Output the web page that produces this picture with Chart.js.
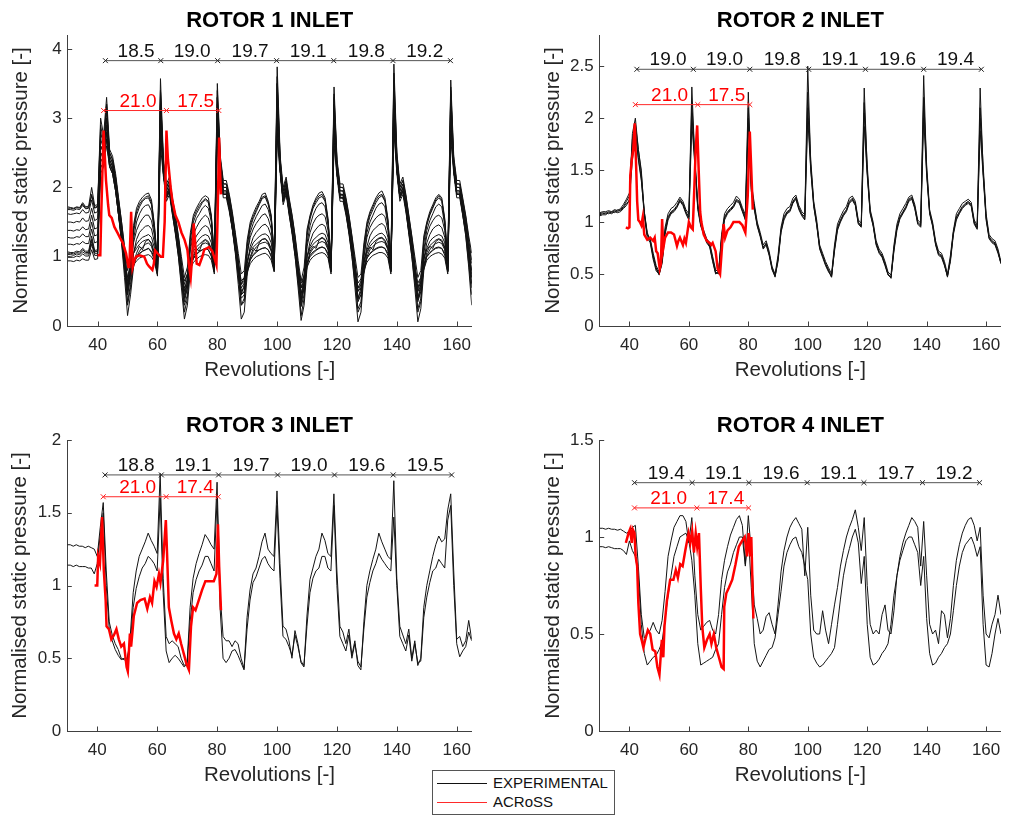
<!DOCTYPE html>
<html>
<head>
<meta charset="utf-8">
<script src="https://cdn.jsdelivr.net/npm/chart.js@4.4.1/dist/chart.umd.min.js"></script>
<style>
  html, body { margin: 0; padding: 0; background: #fff; }
  body { width: 1010px; height: 815px; position: relative; overflow: hidden; font-family: "Liberation Sans", Arial, sans-serif; }
  canvas { position: absolute; }
  #legend { position: absolute; left: 432px; top: 770px; width: 183px; height: 45px; box-sizing: border-box;
            border: 1px solid #555; background: #fff; }
  #legend .ln { position: absolute; left: 4px; width: 50px; height: 1px; }
  #legend .tx { position: absolute; left: 60px; font-size: 15px; line-height: 18px; color: #111; white-space: nowrap; }
</style>
</head>
<body>
<canvas id="rotor1" width="490" height="395" style="left:0;top:0"></canvas>
<canvas id="rotor2" width="480" height="395" style="left:530px;top:0"></canvas>
<canvas id="rotor3" width="490" height="400" style="left:0;top:400px"></canvas>
<canvas id="rotor4" width="480" height="400" style="left:530px;top:400px"></canvas>
<div id="legend">
  <div class="ln" style="top:11.5px;background:#111"></div><div class="tx" style="top:2.5px">EXPERIMENTAL</div>
  <div class="ln" style="top:30.5px;background:#ff2a2a"></div><div class="tx" style="top:21.5px">ACRoSS</div>
</div>
<script>
// Revolution grid shared by the experimental traces (one sample per revolution)
const revs = Array.from({ length: 136 }, (_, i) => 30 + i);
const revTicks = [40, 60, 80, 100, 120, 140, 160];

// ---------- ROTOR 1 INLET ----------
const r1Exp1 = [1.72,1.71,1.70,1.72,1.71,1.78,1.72,1.73,2.0,1.74,
  1.75,3.0,2.75,3.3,2.55,2.45,2.2,1.85,1.5,1.15,
  0.8,1.0,1.45,1.7,1.8,1.86,1.9,1.92,1.82,1.45,
  0.95,3.57,2.4,2.05,2.15,1.85,1.6,1.3,1.0,0.7,
  0.85,1.35,1.6,1.7,1.78,1.85,1.88,1.85,1.6,1.0,
  3.5,2.45,2.1,2.1,1.9,1.65,1.35,1.05,0.75,0.8,
  1.25,1.5,1.62,1.72,1.8,1.9,1.92,1.8,1.6,1.05,
  3.74,2.45,2.0,2.15,1.85,1.6,1.3,0.95,0.65,0.85,
  1.4,1.6,1.75,1.85,1.92,1.94,1.85,1.55,0.95,3.45,
  2.4,2.05,2.05,1.85,1.6,1.3,1.0,0.7,0.75,1.2,
  1.5,1.65,1.75,1.85,1.92,1.95,1.85,1.55,0.95,3.78,
  2.5,2.05,2.15,1.9,1.6,1.3,1.0,0.7,0.8,1.3,
  1.5,1.65,1.75,1.85,1.9,1.85,1.55,0.95,3.55,2.45,
  2.1,2.1,1.85,1.6,1.3,1.05];
const r1Exp2 = [1.68,1.68,1.67,1.69,1.68,1.74,1.69,1.70,1.9,1.70,
  1.72,2.8,2.6,3.1,2.5,2.4,2.15,1.8,1.45,1.05,
  0.6,0.9,1.35,1.6,1.72,1.8,1.84,1.85,1.75,1.4,
  0.9,3.3,2.35,2.0,2.1,1.8,1.55,1.25,0.9,0.5,
  0.7,1.25,1.5,1.62,1.7,1.78,1.82,1.78,1.55,0.95,
  3.3,2.4,2.05,2.05,1.85,1.6,1.3,0.95,0.6,0.65,
  1.15,1.42,1.55,1.65,1.75,1.84,1.86,1.75,1.55,1.0,
  3.5,2.4,1.95,2.1,1.8,1.55,1.25,0.85,0.45,0.7,
  1.3,1.55,1.7,1.78,1.85,1.87,1.8,1.5,0.9,3.3,
  2.35,2.0,2.0,1.8,1.55,1.25,0.9,0.5,0.6,1.1,
  1.42,1.58,1.68,1.78,1.85,1.88,1.8,1.5,0.9,3.55,
  2.45,2.0,2.1,1.85,1.55,1.25,0.9,0.5,0.65,1.2,
  1.45,1.6,1.7,1.8,1.85,1.8,1.5,0.9,3.35,2.4,
  2.05,2.05,1.8,1.55,1.2,0.9];
const r1Exp3 = [1.62,1.61,1.62,1.63,1.62,1.68,1.63,1.64,1.82,1.63,
  1.65,2.6,2.5,3.0,2.45,2.35,2.1,1.75,1.4,1.0,
  0.45,0.75,1.25,1.5,1.62,1.7,1.74,1.75,1.66,1.35,
  0.85,3.2,2.3,1.95,2.05,1.75,1.5,1.2,0.8,0.35,
  0.55,1.15,1.42,1.55,1.62,1.7,1.74,1.7,1.5,0.9,
  3.2,2.35,2.0,2.0,1.8,1.55,1.25,0.9,0.45,0.5,
  1.05,1.35,1.48,1.58,1.66,1.74,1.76,1.68,1.5,0.95,
  3.3,2.35,1.9,2.05,1.75,1.5,1.2,0.8,0.3,0.55,
  1.2,1.45,1.6,1.7,1.76,1.78,1.72,1.45,0.85,3.2,
  2.3,1.95,1.95,1.75,1.5,1.2,0.85,0.35,0.45,1.0,
  1.35,1.5,1.6,1.7,1.76,1.78,1.72,1.45,0.85,3.35,
  2.4,1.95,2.05,1.8,1.5,1.2,0.85,0.35,0.5,1.1,
  1.38,1.52,1.62,1.72,1.76,1.72,1.45,0.85,3.25,2.35,
  2.0,2.0,1.75,1.5,1.15,0.8];
const r1Exp4 = [1.50,1.50,1.49,1.51,1.50,1.56,1.51,1.52,1.7,1.52,
  1.55,2.7,2.55,2.9,2.4,2.3,2.05,1.7,1.35,1.0,
  0.65,0.9,1.2,1.38,1.48,1.55,1.6,1.6,1.52,1.3,
  0.85,3.0,2.25,1.9,2.0,1.7,1.45,1.15,0.85,0.6,
  0.75,1.1,1.32,1.42,1.5,1.56,1.6,1.56,1.4,0.9,
  3.0,2.3,1.95,1.95,1.75,1.5,1.2,0.9,0.6,0.7,
  1.05,1.28,1.4,1.48,1.54,1.6,1.62,1.55,1.4,0.95,
  3.1,2.3,1.85,2.0,1.7,1.45,1.15,0.85,0.55,0.75,
  1.15,1.35,1.48,1.56,1.6,1.62,1.58,1.38,0.85,3.0,
  2.25,1.9,1.9,1.7,1.45,1.15,0.85,0.55,0.65,1.0,
  1.28,1.42,1.5,1.56,1.6,1.62,1.58,1.38,0.85,3.2,
  2.3,1.9,2.0,1.75,1.45,1.15,0.85,0.55,0.7,1.05,
  1.3,1.44,1.52,1.58,1.6,1.56,1.38,0.85,3.1,2.3,
  1.95,1.95,1.7,1.45,1.1,0.75];
const r1Exp5 = [1.38,1.38,1.37,1.39,1.38,1.43,1.39,1.40,1.6,1.40,
  1.42,2.5,2.45,2.8,2.35,2.25,2.0,1.65,1.3,0.9,
  0.35,0.6,1.05,1.25,1.35,1.4,1.44,1.45,1.4,1.2,
  0.8,2.9,2.2,1.85,1.95,1.65,1.4,1.1,0.7,0.2,
  0.4,0.95,1.2,1.3,1.36,1.42,1.45,1.42,1.3,0.85,
  2.9,2.25,1.9,1.9,1.7,1.45,1.15,0.8,0.3,0.35,
  0.9,1.15,1.28,1.35,1.4,1.45,1.47,1.42,1.3,0.9,
  3.0,2.25,1.8,1.95,1.65,1.4,1.1,0.7,0.15,0.4,
  1.0,1.22,1.34,1.4,1.45,1.47,1.44,1.28,0.8,2.9,
  2.2,1.85,1.85,1.65,1.4,1.1,0.75,0.2,0.3,0.9,
  1.15,1.3,1.38,1.42,1.46,1.48,1.44,1.28,0.8,3.1,
  2.25,1.85,1.95,1.7,1.4,1.1,0.75,0.2,0.35,0.95,
  1.2,1.32,1.4,1.44,1.46,1.42,1.28,0.8,3.0,2.25,
  1.9,1.9,1.65,1.4,1.0,0.55];
const r1Exp6 = [1.28,1.27,1.27,1.29,1.28,1.33,1.29,1.29,1.5,1.30,
  1.32,2.4,2.4,2.7,2.3,2.2,1.95,1.6,1.25,0.9,
  0.55,0.8,1.05,1.18,1.24,1.28,1.3,1.32,1.28,1.12,
  0.8,3.1,2.2,1.85,1.95,1.65,1.4,1.1,0.75,0.45,
  0.6,0.95,1.12,1.2,1.26,1.3,1.32,1.3,1.2,0.85,
  3.1,2.25,1.9,1.9,1.7,1.45,1.15,0.8,0.45,0.5,
  0.9,1.1,1.2,1.25,1.29,1.32,1.33,1.3,1.2,0.9,
  3.3,2.25,1.8,1.95,1.65,1.4,1.1,0.75,0.4,0.6,
  1.0,1.15,1.24,1.28,1.32,1.34,1.32,1.2,0.8,3.1,
  2.2,1.85,1.85,1.65,1.4,1.1,0.75,0.4,0.5,0.9,
  1.1,1.2,1.26,1.3,1.33,1.34,1.3,1.2,0.8,3.3,
  2.25,1.85,1.95,1.7,1.4,1.1,0.75,0.4,0.55,0.95,
  1.12,1.22,1.27,1.3,1.32,1.3,1.2,0.8,3.15,2.25,
  1.9,1.9,1.65,1.4,1.05,0.7];
const r1Exp7 = [1.18,1.18,1.17,1.19,1.18,1.22,1.19,1.19,1.4,1.20,
  1.22,2.3,2.35,2.6,2.3,2.2,1.95,1.6,1.3,1.0,
  0.7,0.9,1.05,1.12,1.18,1.22,1.24,1.25,1.2,1.05,
  0.8,2.6,2.15,1.8,1.9,1.6,1.35,1.1,0.85,0.65,
  0.75,0.95,1.08,1.14,1.18,1.22,1.25,1.22,1.12,0.8,
  2.6,2.2,1.85,1.85,1.65,1.4,1.15,0.9,0.65,0.7,
  0.95,1.08,1.14,1.18,1.22,1.25,1.26,1.22,1.12,0.85,
  2.7,2.2,1.75,1.9,1.6,1.35,1.1,0.85,0.62,0.72,
  1.0,1.12,1.18,1.22,1.25,1.28,1.25,1.15,0.8,2.6,
  2.15,1.8,1.8,1.6,1.35,1.1,0.85,0.62,0.68,0.95,
  1.08,1.15,1.2,1.24,1.27,1.28,1.24,1.14,0.8,2.8,
  2.2,1.8,1.9,1.65,1.35,1.1,0.85,0.62,0.7,1.0,
  1.1,1.16,1.2,1.24,1.26,1.24,1.14,0.8,2.7,2.2,
  1.85,1.85,1.6,1.35,1.05,0.8];
const r1Exp8 = [1.07,1.06,1.06,1.08,1.07,1.12,1.08,1.08,1.3,1.09,
  1.1,2.2,2.3,2.9,2.35,2.25,2.0,1.6,1.2,0.7,
  0.15,0.45,0.85,1.0,1.08,1.14,1.18,1.2,1.15,1.0,
  0.75,3.4,2.2,1.85,1.95,1.65,1.35,1.0,0.55,0.1,
  0.3,0.8,1.0,1.08,1.14,1.18,1.2,1.18,1.08,0.8,
  3.3,2.25,1.9,1.9,1.7,1.4,1.05,0.6,0.1,0.2,
  0.75,0.98,1.08,1.14,1.18,1.2,1.21,1.18,1.08,0.85,
  3.5,2.25,1.8,1.95,1.65,1.35,1.0,0.55,0.08,0.3,
  0.85,1.05,1.12,1.16,1.2,1.22,1.2,1.1,0.8,3.2,
  2.2,1.85,1.85,1.65,1.35,1.0,0.55,0.06,0.2,0.75,
  1.0,1.1,1.15,1.19,1.21,1.22,1.2,1.1,0.8,3.5,
  2.25,1.85,1.95,1.7,1.35,1.0,0.55,0.06,0.25,0.8,
  1.02,1.1,1.16,1.19,1.21,1.19,1.1,0.8,3.4,2.25,
  1.9,1.9,1.6,1.3,0.85,0.3];
const r1Exp9 = [1.03,1.03,1.02,1.04,1.03,1.07,1.04,1.04,1.22,1.05,
  1.05,2.5,2.4,3.2,2.4,2.3,2.05,1.65,1.25,0.85,
  0.45,0.7,0.9,1.0,1.05,1.08,1.1,1.12,1.08,0.98,
  0.75,2.9,2.25,1.9,2.0,1.7,1.4,1.05,0.7,0.4,
  0.55,0.85,0.98,1.04,1.08,1.1,1.12,1.1,1.02,0.78,
  2.8,2.3,1.95,1.95,1.75,1.45,1.1,0.75,0.4,0.45,
  0.8,0.95,1.03,1.08,1.1,1.12,1.13,1.1,1.02,0.8,
  2.9,2.3,1.85,2.0,1.7,1.4,1.05,0.7,0.38,0.55,
  0.9,1.02,1.07,1.1,1.13,1.14,1.12,1.05,0.78,2.9,
  2.25,1.9,1.9,1.7,1.4,1.05,0.7,0.38,0.45,0.8,
  0.98,1.05,1.09,1.12,1.14,1.14,1.12,1.05,0.78,3.0,
  2.3,1.9,2.0,1.75,1.4,1.05,0.7,0.38,0.5,0.85,
  1.0,1.06,1.1,1.13,1.14,1.12,1.05,0.78,2.9,2.3,
  1.95,1.95,1.7,1.4,1.0,0.6];
const r1Exp10 = [0.94,0.94,0.93,0.95,0.94,0.97,0.95,0.95,1.1,0.96,
  0.97,2.6,2.5,3.0,2.45,2.35,2.1,1.7,1.3,0.9,
  0.55,0.75,0.88,0.94,0.98,1.0,1.02,1.03,1.0,0.92,
  0.72,3.2,2.3,1.95,2.05,1.75,1.45,1.1,0.78,0.5,
  0.6,0.82,0.92,0.96,1.0,1.02,1.03,1.02,0.95,0.75,
  3.1,2.35,2.0,2.0,1.8,1.5,1.15,0.8,0.5,0.55,
  0.78,0.9,0.96,1.0,1.02,1.04,1.05,1.02,0.95,0.78,
  3.2,2.35,1.9,2.05,1.75,1.45,1.1,0.75,0.48,0.6,
  0.85,0.95,1.0,1.03,1.05,1.06,1.04,0.98,0.75,2.8,
  2.3,1.95,1.95,1.75,1.45,1.1,0.75,0.5,0.55,0.8,
  0.92,0.98,1.02,1.04,1.06,1.06,1.04,0.98,0.75,3.0,
  2.35,1.95,2.05,1.8,1.45,1.1,0.75,0.5,0.58,0.82,
  0.95,1.0,1.03,1.05,1.06,1.04,0.98,0.75,3.0,2.35,
  2.0,2.0,1.75,1.45,1.1,0.7];
const r1Exp11 = [1.70,1.70,1.69,1.71,1.70,1.76,1.70,1.71,1.88,1.71,
  1.73,2.9,2.65,3.2,2.5,2.4,2.15,1.82,1.5,1.1,
  0.5,0.85,1.4,1.65,1.76,1.82,1.86,1.88,1.78,1.42,
  0.92,3.4,2.35,2.0,2.1,1.82,1.58,1.28,0.92,0.4,
  0.65,1.3,1.56,1.66,1.74,1.8,1.84,1.8,1.58,0.98,
  3.4,2.4,2.05,2.05,1.88,1.62,1.32,0.95,0.45,0.6,
  1.2,1.46,1.58,1.68,1.77,1.86,1.88,1.78,1.58,1.02,
  3.6,2.4,1.95,2.1,1.82,1.58,1.28,0.85,0.35,0.65,
  1.35,1.58,1.72,1.82,1.88,1.9,1.82,1.52,0.92,3.35,
  2.35,2.0,2.0,1.82,1.58,1.28,0.9,0.4,0.55,1.15,
  1.46,1.62,1.72,1.82,1.88,1.9,1.82,1.52,0.92,3.65,
  2.45,2.0,2.1,1.88,1.58,1.28,0.9,0.4,0.6,1.25,
  1.48,1.62,1.72,1.82,1.88,1.82,1.52,0.92,3.45,2.4,
  2.05,2.05,1.82,1.58,1.25,0.95];
const r1Exp12 = [1.05,1.05,1.04,1.06,1.05,1.1,1.06,1.06,1.25,1.07,
  1.08,2.4,2.35,2.7,2.3,2.2,1.95,1.6,1.22,0.8,
  0.3,0.55,0.9,1.05,1.15,1.1,1.22,1.25,1.18,1.02,
  0.78,3.0,2.2,1.85,1.95,1.62,1.32,1.0,0.62,0.3,
  0.45,0.85,1.02,1.12,1.08,1.2,1.24,1.2,1.1,0.82,
  3.0,2.25,1.9,1.9,1.68,1.4,1.08,0.7,0.3,0.4,
  0.82,1.0,1.12,1.08,1.2,1.25,1.26,1.2,1.1,0.85,
  3.1,2.25,1.8,1.95,1.62,1.32,1.0,0.62,0.28,0.45,
  0.9,1.08,1.15,1.12,1.24,1.27,1.24,1.12,0.82,3.0,
  2.2,1.85,1.85,1.62,1.32,1.0,0.62,0.25,0.35,0.82,
  1.05,1.14,1.1,1.22,1.26,1.27,1.22,1.12,0.82,3.2,
  2.25,1.85,1.95,1.68,1.32,1.0,0.62,0.25,0.4,0.88,
  1.06,1.15,1.12,1.22,1.25,1.22,1.12,0.82,3.1,2.25,
  1.9,1.9,1.62,1.32,0.9,0.45];
const r1Exp13 = [1.0,1.0,0.99,1.01,1.0,1.04,1.01,1.01,1.18,1.02,
  1.02,2.3,2.3,2.8,2.35,2.25,2.0,1.62,1.28,0.92,
  0.58,0.78,0.92,0.98,1.04,1.08,1.1,1.12,1.06,0.95,
  0.75,2.75,2.2,1.88,1.98,1.68,1.38,1.05,0.75,0.55,
  0.65,0.88,0.97,1.03,1.07,1.1,1.12,1.1,1.0,0.78,
  2.75,2.25,1.92,1.92,1.72,1.42,1.1,0.78,0.55,0.62,
  0.85,0.96,1.02,1.06,1.1,1.12,1.13,1.1,1.0,0.8,
  2.8,2.25,1.82,1.98,1.68,1.38,1.05,0.75,0.55,0.65,
  0.92,1.0,1.05,1.09,1.12,1.14,1.12,1.02,0.78,2.7,
  2.2,1.88,1.88,1.68,1.38,1.05,0.75,0.55,0.6,0.85,
  0.98,1.04,1.08,1.11,1.13,1.14,1.12,1.02,0.78,2.9,
  2.25,1.88,1.98,1.72,1.38,1.05,0.75,0.55,0.62,0.88,
  1.0,1.05,1.09,1.12,1.13,1.12,1.02,0.78,2.8,2.25,
  1.92,1.92,1.68,1.38,1.02,0.62];
const r1Across = [[40.0,1.02],[40.9,1.02],[41.2,1.6],[42.0,2.82],[42.8,2.1],[43.5,1.75],[43.9,1.6],[44.7,1.56],
  [45.6,1.43],[46.7,1.34],[47.5,1.27],[48.4,1.2],[49.5,1.05],[50.3,0.85],[50.6,0.85],[51.2,1.65],[51.7,0.85],
  [52.3,0.95],[52.8,1.0],[54.0,1.02],[55.6,1.0],[56.5,0.9],[57.2,0.86],[58.3,0.81],[58.8,0.9],[59.2,1.09],
  [60.0,1.05],[61.1,1.0],[61.8,1.0],[62.4,1.5],[63.0,2.82],[63.5,2.4],[64.4,2.0],[65.0,1.8],[66.0,1.6],
  [67.0,1.5],[68.0,1.35],[69.0,1.25],[70.0,1.1],[70.6,0.85],[71.1,0.7],[71.6,1.0],[72.1,1.48],[72.6,1.2],
  [73.1,0.9],[74.0,0.88],[75.0,1.0],[75.6,1.1],[77.2,1.14],[78.3,1.08],[78.9,1.0],[79.7,0.88],[80.1,1.6],
  [80.6,2.72],[81.1,2.0],[81.2,1.9]];
const r1Exp = [r1Exp1, r1Exp2, r1Exp3, r1Exp4, r1Exp5, r1Exp6, r1Exp7, r1Exp8, r1Exp9, r1Exp10,
               r1Exp11, r1Exp12, r1Exp13];
const r1YTicks = [0, 1, 2, 3, 4];
const r1ExpStart = 42.6, r1ExpGaps = [18.5, 19.0, 19.7, 19.1, 19.8, 19.2];
const r1SimStart = 42.0, r1SimGaps = [21.0, 17.5];

// ---------- ROTOR 2 INLET ----------
const r2Exp1 = [1.08,1.09,1.08,1.10,1.09,1.11,1.10,1.12,1.15,1.20,
  1.25,1.85,2.0,1.7,1.47,1.1,0.88,0.82,0.68,0.55,
  0.49,0.62,0.92,1.05,1.1,1.12,1.16,1.22,1.18,1.1,
  1.05,2.3,1.6,1.15,0.98,0.9,0.82,0.78,0.65,0.52,
  0.5,0.85,1.05,1.1,1.13,1.16,1.22,1.2,1.12,1.05,
  2.25,1.35,1.15,0.98,0.88,0.75,0.8,0.7,0.55,0.47,
  0.65,0.92,1.05,1.1,1.12,1.2,1.24,1.14,1.08,1.05,
  2.5,1.56,1.18,0.99,0.75,0.67,0.6,0.54,0.47,0.75,
  0.95,1.02,1.08,1.12,1.2,1.23,1.18,1.0,0.97,2.29,
  1.5,1.1,0.98,0.8,0.72,0.68,0.6,0.5,0.46,0.75,
  0.95,1.05,1.1,1.15,1.22,1.24,1.15,1.0,0.97,2.41,
  1.5,1.1,0.98,0.8,0.7,0.68,0.6,0.47,0.65,0.9,
  1.05,1.1,1.15,1.18,1.2,1.17,1.0,0.95,2.29,1.5,
  1.05,0.86,0.82,0.8,0.72,0.6];
const r2Exp2 = [1.07,1.08,1.09,1.08,1.10,1.09,1.12,1.11,1.14,1.18,
  1.2,1.75,1.9,1.6,1.4,1.1,0.9,0.82,0.66,0.56,
  0.5,0.6,0.88,1.02,1.08,1.1,1.14,1.2,1.16,1.08,
  1.02,1.95,1.55,1.12,0.96,0.88,0.8,0.76,0.62,0.5,
  0.52,0.82,1.02,1.08,1.11,1.14,1.2,1.18,1.1,1.02,
  1.95,1.3,1.12,0.96,0.86,0.74,0.78,0.68,0.54,0.48,
  0.62,0.9,1.02,1.08,1.1,1.18,1.22,1.12,1.06,1.02,
  2.0,1.5,1.15,0.97,0.74,0.66,0.58,0.52,0.48,0.72,
  0.92,1.0,1.06,1.1,1.18,1.21,1.16,0.98,0.95,1.92,
  1.45,1.08,0.96,0.78,0.7,0.66,0.58,0.49,0.47,0.72,
  0.92,1.03,1.08,1.13,1.2,1.22,1.13,0.98,0.95,2.0,
  1.45,1.08,0.96,0.78,0.68,0.66,0.58,0.48,0.62,0.88,
  1.02,1.08,1.13,1.16,1.18,1.15,0.98,0.93,1.88,1.45,
  1.02,0.84,0.8,0.78,0.7,0.6];
const r2Exp3 = [1.09,1.1,1.1,1.11,1.1,1.12,1.11,1.13,1.17,1.22,
  1.28,1.8,1.95,1.7,1.5,1.08,0.88,0.84,0.7,0.58,
  0.52,0.65,0.95,1.08,1.13,1.15,1.19,1.24,1.2,1.12,
  1.08,2.15,1.62,1.18,1.0,0.92,0.84,0.8,0.67,0.54,
  0.52,0.88,1.08,1.13,1.16,1.19,1.25,1.22,1.14,1.07,
  2.1,1.38,1.18,1.0,0.9,0.78,0.82,0.72,0.57,0.5,
  0.68,0.95,1.08,1.13,1.15,1.23,1.26,1.16,1.1,1.07,
  2.25,1.6,1.2,1.02,0.78,0.7,0.62,0.56,0.5,0.78,
  0.98,1.05,1.11,1.15,1.23,1.25,1.2,1.02,0.99,2.15,
  1.55,1.12,1.0,0.82,0.74,0.7,0.62,0.52,0.49,0.78,
  0.98,1.08,1.13,1.18,1.24,1.26,1.17,1.02,0.99,2.2,
  1.55,1.12,1.0,0.82,0.72,0.7,0.62,0.5,0.68,0.92,
  1.08,1.13,1.18,1.2,1.22,1.19,1.02,0.97,2.1,1.55,
  1.08,0.88,0.84,0.82,0.74,0.62];
const r2Exp4 = [1.06,1.07,1.07,1.09,1.08,1.1,1.09,1.1,1.13,1.16,
  1.22,1.6,1.85,1.62,1.42,1.06,0.85,0.8,0.64,0.53,
  0.5,0.63,0.9,1.04,1.09,1.11,1.15,1.21,1.17,1.09,
  1.03,2.05,1.58,1.14,0.97,0.89,0.81,0.77,0.63,0.51,
  0.51,0.84,1.04,1.09,1.12,1.15,1.21,1.19,1.11,1.03,
  2.0,1.32,1.14,0.97,0.87,0.76,0.79,0.69,0.56,0.48,
  0.64,0.91,1.04,1.09,1.11,1.19,1.23,1.13,1.07,1.03,
  2.1,1.52,1.16,0.98,0.76,0.68,0.59,0.53,0.47,0.74,
  0.94,1.01,1.07,1.11,1.19,1.22,1.17,0.99,0.96,2.05,
  1.48,1.09,0.97,0.79,0.71,0.67,0.59,0.5,0.46,0.74,
  0.94,1.04,1.09,1.14,1.21,1.23,1.14,0.99,0.96,2.15,
  1.48,1.09,0.97,0.79,0.69,0.67,0.59,0.48,0.64,0.9,
  1.04,1.09,1.14,1.17,1.19,1.16,0.99,0.94,2.0,1.48,
  1.04,0.85,0.81,0.79,0.71,0.61];
const r2Across = [[38.8,0.95],[39.5,0.94],[40.0,0.95],[40.3,1.45],[40.8,1.6],[41.3,1.7],[41.8,1.95],[42.3,1.5],
  [42.6,1.2],[43.0,1.02],[43.5,1.0],[44.0,0.97],[44.5,1.05],[45.0,0.88],[46.0,0.83],[47.0,0.85],[48.0,0.82],
  [48.5,0.85],[49.0,0.72],[49.5,0.7],[50.2,0.55],[50.6,0.6],[51.0,1.03],[51.4,0.75],[52.0,0.85],[53.0,0.9],
  [54.0,0.9],[55.0,0.88],[56.0,0.77],[56.5,0.82],[57.0,0.85],[58.0,0.78],[58.5,0.84],[59.0,0.8],[60.0,1.0],
  [60.7,0.95],[61.3,0.93],[61.8,1.3],[62.3,1.7],[62.8,1.93],[63.3,1.5],[63.8,1.1],[64.2,1.0],[65.0,0.88],
  [66.0,0.82],[67.0,0.8],[67.5,0.78],[68.0,0.8],[69.0,0.72],[69.7,0.55],[70.5,0.5],[71.0,0.7],[71.7,0.98],
  [72.2,0.85],[73.0,0.92],[74.0,0.95],[75.0,1.0],[76.0,1.0],[77.0,1.0],[78.0,0.97],[79.0,0.9],[79.8,1.25],
  [80.5,1.87],[81.0,1.5],[81.5,1.12]];
const r2Exp = [r2Exp1, r2Exp2, r2Exp3, r2Exp4];
const r2YTicks = [0, 0.5, 1, 1.5, 2, 2.5];
const r2ExpStart = 42.5, r2ExpGaps = [19.0, 19.0, 19.8, 19.1, 19.6, 19.4];
const r2SimStart = 42.0, r2SimGaps = [21.0, 17.5];

// ---------- ROTOR 3 INLET ----------
const r3Exp1 = [1.28,1.28,1.27,1.28,1.27,1.27,1.26,1.27,1.26,1.25,
  1.2,1.4,1.57,1.1,0.75,0.66,0.6,0.56,0.5,0.49,
  0.48,0.65,0.95,1.1,1.2,1.25,1.3,1.36,1.31,1.27,
  1.22,1.77,1.05,0.65,0.6,0.62,0.6,0.58,0.5,0.45,
  0.47,0.85,1.05,1.15,1.22,1.28,1.35,1.32,1.28,1.25,
  1.71,0.95,0.65,0.62,0.62,0.58,0.62,0.6,0.5,0.43,
  0.78,0.97,1.08,1.12,1.2,1.3,1.36,1.25,1.22,1.2,
  1.65,1.15,0.72,0.7,0.62,0.5,0.69,0.6,0.47,0.44,
  0.79,1.04,1.12,1.2,1.25,1.36,1.31,1.22,1.2,1.63,
  1.1,0.72,0.68,0.6,0.7,0.52,0.62,0.45,0.42,0.75,
  1.0,1.1,1.18,1.25,1.36,1.3,1.25,1.2,1.18,1.72,
  1.05,0.72,0.66,0.6,0.7,0.5,0.62,0.45,0.5,0.85,
  1.0,1.1,1.2,1.28,1.34,1.3,1.32,1.52,1.63,1.1,
  0.63,0.65,0.58,0.62,0.76,0.63];
const r3Exp2 = [1.14,1.14,1.13,1.14,1.13,1.13,1.13,1.12,1.12,1.08,
  1.15,1.35,1.5,1.0,0.7,0.62,0.56,0.52,0.49,0.5,
  0.5,0.6,0.85,0.98,1.06,1.12,1.15,1.2,1.18,1.15,
  1.1,1.6,0.95,0.55,0.47,0.5,0.52,0.5,0.47,0.44,
  0.46,0.75,0.95,1.04,1.1,1.14,1.2,1.2,1.15,1.1,
  1.6,0.85,0.5,0.47,0.5,0.55,0.56,0.52,0.47,0.42,
  0.7,0.9,1.02,1.06,1.12,1.18,1.2,1.15,1.12,1.1,
  1.55,1.05,0.65,0.63,0.58,0.52,0.66,0.58,0.48,0.45,
  0.72,0.95,1.05,1.1,1.12,1.2,1.2,1.12,1.1,1.55,
  1.0,0.65,0.6,0.55,0.66,0.5,0.6,0.48,0.44,0.7,
  0.92,1.02,1.1,1.15,1.22,1.18,1.15,1.12,1.1,1.47,
  1.0,0.65,0.6,0.55,0.66,0.48,0.6,0.47,0.48,0.78,
  0.92,1.02,1.1,1.12,1.18,1.15,1.12,1.45,1.55,1.0,
  0.6,0.51,0.55,0.58,0.68,0.62];
const r3Across = [[39.1,1.0],[40.0,1.0],[40.3,1.2],[40.9,1.15],[41.6,1.47],[42.2,1.1],[42.8,0.9],[43.1,0.72],
  [43.9,0.7],[44.7,0.63],[45.6,0.66],[46.4,0.7],[47.2,0.63],[48.0,0.58],[48.9,0.6],[49.8,0.44],[50.2,0.41],
  [50.9,0.67],[51.3,0.58],[51.7,0.67],[52.2,0.79],[53.3,0.88],[54.4,0.9],[55.8,0.91],[56.7,0.84],[57.6,0.92],
  [58.3,0.88],[59.1,1.03],[59.8,0.99],[60.6,1.08],[61.1,1.02],[62.0,1.17],[62.9,1.45],[63.3,1.22],[63.9,0.85],
  [64.7,0.76],[65.6,0.67],[66.4,0.63],[67.2,0.67],[68.0,0.6],[68.9,0.53],[69.8,0.46],[70.6,0.42],[71.3,0.72],
  [72.0,0.85],[72.8,0.83],[73.9,0.9],[75.0,0.97],[76.1,1.03],[77.5,1.03],[78.9,1.03],[79.8,1.08],[80.3,1.42],
  [80.7,1.13],[81.3,0.83]];
const r3Exp = [r3Exp1, r3Exp2];
const r3YTicks = [0, 0.5, 1, 1.5, 2];
const r3ExpStart = 42.6, r3ExpGaps = [18.8, 19.1, 19.7, 19.0, 19.6, 19.5];
const r3SimStart = 42.0, r3SimGaps = [21.0, 17.4];

// ---------- ROTOR 4 INLET ----------
const r4Exp1 = [1.045,1.045,1.04,1.045,1.04,1.04,1.035,1.04,1.03,1.02,
  1.03,1.05,1.06,0.85,0.6,0.48,0.5,0.52,0.56,0.52,
  0.5,0.57,0.72,0.9,0.98,1.05,1.08,1.11,1.11,1.08,
  0.97,1.1,0.8,0.6,0.52,0.54,0.56,0.57,0.52,0.5,
  0.6,0.78,0.88,0.95,1.01,1.05,1.09,1.11,1.06,0.86,
  1.11,0.92,0.65,0.58,0.5,0.52,0.59,0.61,0.55,0.5,
  0.65,0.82,0.93,1.0,1.05,1.08,1.1,1.07,1.04,0.8,
  1.05,0.7,0.52,0.5,0.5,0.62,0.52,0.45,0.55,0.65,
  0.74,0.85,0.93,1.0,1.05,1.09,1.14,1.05,0.93,1.1,
  0.75,0.55,0.5,0.52,0.5,0.6,0.65,0.52,0.5,0.62,
  0.8,0.9,0.97,1.02,1.06,1.1,1.08,1.05,0.85,1.08,
  0.8,0.55,0.5,0.52,0.45,0.62,0.6,0.48,0.58,0.75,
  0.88,0.96,1.02,1.06,1.09,1.1,1.06,0.98,1.05,0.7,
  0.5,0.48,0.55,0.6,0.7,0.6];
const r4Exp2 = [0.95,0.95,0.945,0.95,0.945,0.94,0.94,0.94,0.93,0.91,
  0.98,0.93,0.9,0.8,0.55,0.4,0.34,0.36,0.38,0.39,
  0.42,0.46,0.58,0.7,0.8,0.9,0.95,1.0,1.01,1.02,
  0.98,0.88,0.7,0.45,0.34,0.35,0.36,0.37,0.38,0.42,
  0.45,0.6,0.74,0.82,0.86,0.92,0.96,1.0,1.0,0.85,
  1.02,0.74,0.45,0.36,0.33,0.36,0.39,0.42,0.43,0.48,
  0.6,0.72,0.85,0.92,0.96,0.99,1.0,0.95,0.92,0.85,
  0.78,0.5,0.38,0.35,0.33,0.34,0.36,0.38,0.4,0.43,
  0.55,0.68,0.8,0.88,0.94,1.0,1.04,0.97,0.76,0.9,
  0.55,0.38,0.34,0.35,0.37,0.4,0.42,0.45,0.55,0.7,
  0.8,0.88,0.93,0.98,1.0,1.0,0.96,0.92,0.75,0.9,
  0.58,0.4,0.34,0.35,0.38,0.4,0.43,0.45,0.5,0.62,
  0.75,0.85,0.92,0.96,0.98,1.0,0.96,0.9,0.95,0.55,
  0.34,0.33,0.4,0.5,0.58,0.5];
const r4Across = [[38.8,0.97],[39.7,1.02],[40.2,1.04],[40.8,0.97],[41.1,1.04],[41.7,1.02],[42.1,0.9],[42.6,0.85],
  [43.0,0.66],[43.6,0.5],[44.1,0.47],[44.7,0.43],[45.3,0.47],[46.2,0.52],[47.0,0.5],[47.8,0.42],[48.7,0.41],
  [49.4,0.33],[50.1,0.29],[50.5,0.38],[50.9,0.47],[51.4,0.38],[51.8,0.54],[52.6,0.67],[53.7,0.78],[54.8,0.78],
  [55.6,0.83],[56.3,0.79],[57.1,0.86],[57.9,0.85],[58.8,0.93],[59.4,0.98],[59.9,1.02],[60.5,0.97],[61.1,1.03],
  [61.7,0.92],[62.3,1.02],[62.8,0.95],[63.4,1.02],[64.0,0.74],[64.5,0.54],[65.2,0.43],[66.1,0.47],[67.0,0.5],
  [67.6,0.45],[68.4,0.5],[69.2,0.43],[70.1,0.38],[71.0,0.33],[71.7,0.32],[71.9,0.64],[72.6,0.71],[73.5,0.74],
  [74.6,0.78],[75.7,0.86],[76.8,0.95],[77.9,0.98],[78.8,1.0],[79.6,0.9],[80.1,1.02],[80.7,0.9],[81.0,1.0],
  [81.4,0.76],[81.7,0.58]];
const r4Exp = [r4Exp1, r4Exp2];
const r4YTicks = [0, 0.5, 1, 1.5];
const r4ExpStart = 41.7, r4ExpGaps = [19.4, 19.1, 19.6, 19.1, 19.7, 19.2];
const r4SimStart = 41.7, r4SimGaps = [21.0, 17.4];

// ---------- drawing ----------
const FONT = '"Liberation Sans", Arial, Helvetica, sans-serif';
const TXT = '#262626';
const AXIS = '#404040';
Chart.defaults.font.family = FONT;

// marker positions of a period bracket: start, then each stated period added in turn
function bracketMarks(start, gaps) {
  const marks = [start];
  gaps.forEach(g => marks.push(marks[marks.length - 1] + g));
  return marks;
}

const panelDecor = {
  id: 'panelDecor',
  afterDatasetsDraw(chart, args, opts) {
    const { ctx, chartArea: a, scales: { x, y } } = chart;
    ctx.save();
    // inward tick marks
    ctx.strokeStyle = AXIS;
    ctx.lineWidth = 1;
    ctx.beginPath();
    x.ticks.forEach(t => {
      const px = Math.round(x.getPixelForValue(t.value)) + 0.5;
      ctx.moveTo(px, a.bottom); ctx.lineTo(px, a.bottom - 4.5);
    });
    y.ticks.forEach(t => {
      const py = Math.round(y.getPixelForValue(t.value)) + 0.5;
      ctx.moveTo(a.left, py); ctx.lineTo(a.left + 4.5, py);
    });
    ctx.stroke();
    // period labels above each bracket
    ctx.font = '19px ' + FONT;
    ctx.textAlign = 'center';
    ctx.textBaseline = 'alphabetic';
    opts.brackets.forEach(b => {
      const marks = bracketMarks(b.start, b.gaps);
      ctx.fillStyle = b.text;
      b.gaps.forEach((g, i) => {
        const mid = (marks[i] + marks[i + 1]) / 2 + 1;
        ctx.fillText(g.toFixed(1), x.getPixelForValue(mid), y.getPixelForValue(b.level) - 4);
      });
    });
    // panel title
    ctx.font = 'bold 22px ' + FONT;
    ctx.fillStyle = '#000';
    ctx.textBaseline = 'middle';
    ctx.fillText(opts.title, (a.left + a.right) / 2, a.top - 13.7);
    ctx.restore();
  }
};

function buildPanel(id, p) {
  const datasets = [];
  datasets.push({
    data: p.across.map(([r, v]) => ({ x: r, y: v })),
    borderColor: '#ff0000', borderWidth: 2.5, pointRadius: 0, tension: 0
  });
  p.brackets.forEach(b => {
    datasets.push({
      data: bracketMarks(b.start, b.gaps).map(m => ({ x: m, y: b.level })),
      borderColor: b.line, borderWidth: 1, tension: 0,
      pointStyle: 'crossRot', pointRadius: 3.5, pointBorderWidth: 1,
      pointBorderColor: b.mark, pointBackgroundColor: 'rgba(0,0,0,0)'
    });
  });
  p.exp.forEach(arr => {
    datasets.push({
      data: revs.map((r, i) => ({ x: r, y: arr[i] })),
      borderColor: '#141414', borderWidth: 1, pointRadius: 0, tension: 0
    });
  });

  new Chart(document.getElementById(id), {
    type: 'line',
    data: { datasets },
    plugins: [panelDecor],
    options: {
      responsive: false, animation: false, events: [],
      layout: { padding: { left: 0, right: p.padRight, top: p.padTop, bottom: 0 } },
      plugins: {
        legend: { display: false }, tooltip: { enabled: false },
        panelDecor: { title: p.title, brackets: p.brackets }
      },
      scales: {
        x: {
          type: 'linear', min: 30, max: 165,
          afterBuildTicks: s => { s.ticks = revTicks.map(v => ({ value: v })); },
          afterFit: s => { s.height = p.xAxisH; },
          grid: { display: false, drawTicks: false },
          border: { display: true, color: AXIS, width: 1 },
          ticks: { padding: 9.5, color: TXT, font: { size: 17 }, maxRotation: 0, autoSkip: false,
                   callback: v => String(v) },
          title: { display: true, text: 'Revolutions [-]', color: TXT, font: { size: 20.5 },
                   padding: { top: 0, bottom: 12 } }
        },
        y: {
          type: 'linear', min: 0, max: p.yMax,
          afterBuildTicks: s => { s.ticks = p.yTicks.map(v => ({ value: v })); },
          afterFit: s => { s.width = p.yAxisW; },
          grid: { display: false, drawTicks: false },
          border: { display: true, color: AXIS, width: 1 },
          ticks: { padding: 6, color: TXT, font: { size: 17 }, autoSkip: false, callback: v => String(v) },
          title: { display: true, text: 'Normalised static pressure [-]', color: TXT, font: { size: 20.5 },
                   padding: { top: p.yAxisW - 46.8 - 12.3, bottom: 0 } }
        }
      }
    }
  });
}

const blackBracket = { line: '#555', mark: '#222', text: '#111' };
const redBracket = { line: '#ff2a2a', mark: '#ff2020', text: '#ff0000' };

buildPanel('rotor1', {
  title: 'ROTOR 1 INLET', exp: r1Exp, across: r1Across, yMax: 4.2, yTicks: r1YTicks,
  yAxisW: 67.7, xAxisH: 69, padTop: 35, padRight: 18.3,
  brackets: [
    Object.assign({ start: r1ExpStart, gaps: r1ExpGaps, level: 3.83 }, blackBracket),
    Object.assign({ start: r1SimStart, gaps: r1SimGaps, level: 3.11 }, redBracket)
  ]
});
buildPanel('rotor2', {
  title: 'ROTOR 2 INLET', exp: r2Exp, across: r2Across, yMax: 2.8, yTicks: r2YTicks,
  yAxisW: 69.7, xAxisH: 69, padTop: 35, padRight: 6,
  brackets: [
    Object.assign({ start: r2ExpStart, gaps: r2ExpGaps, level: 2.47 }, blackBracket),
    Object.assign({ start: r2SimStart, gaps: r2SimGaps, level: 2.13 }, redBracket)
  ]
});
buildPanel('rotor3', {
  title: 'ROTOR 3 INLET', exp: r3Exp, across: r3Across, yMax: 2, yTicks: r3YTicks,
  yAxisW: 67.3, xAxisH: 69, padTop: 40, padRight: 18.3,
  brackets: [
    Object.assign({ start: r3ExpStart, gaps: r3ExpGaps, level: 1.76 }, blackBracket),
    Object.assign({ start: r3SimStart, gaps: r3SimGaps, level: 1.61 }, redBracket)
  ]
});
buildPanel('rotor4', {
  title: 'ROTOR 4 INLET', exp: r4Exp, across: r4Across, yMax: 1.5, yTicks: r4YTicks,
  yAxisW: 69.7, xAxisH: 69, padTop: 40, padRight: 6,
  brackets: [
    Object.assign({ start: r4ExpStart, gaps: r4ExpGaps, level: 1.28 }, blackBracket),
    Object.assign({ start: r4SimStart, gaps: r4SimGaps, level: 1.15 }, redBracket)
  ]
});
</script>
</body>
</html>
